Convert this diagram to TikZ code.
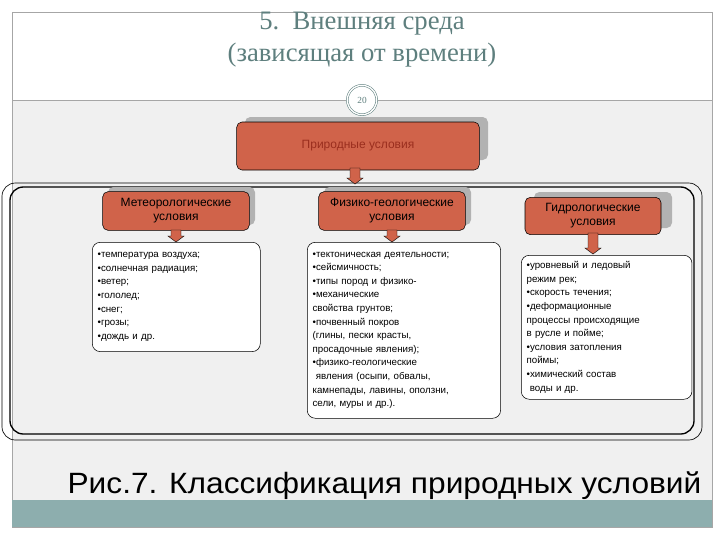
\documentclass[tikz,border=0pt]{standalone}
\usepackage{fontspec}
\setmainfont{Liberation Sans}
\newfontfamily\serif{Liberation Serif}
\definecolor{hd}{HTML}{D0634A}
\definecolor{hdtxt}{HTML}{9A2E1E}
\definecolor{teal}{HTML}{8DAEAE}
\definecolor{ttl}{HTML}{5E7F7E}
\definecolor{bg}{HTML}{F0F0F0}
\begin{document}
\begin{tikzpicture}[x=0.75pt,y=-0.75pt,
  head/.style={draw=black,fill=hd,rounded corners=4pt,align=center,font=\fontsize{9}{10.5}\selectfont,inner sep=2pt},
  shad/.style={fill=gray!60,rounded corners=4pt},
  listbox/.style={draw=black,fill=white,rounded corners=6pt,align=left,font=\fontsize{7.3}{10.2}\selectfont,inner xsep=4pt,inner ysep=3pt,anchor=north west},
  arr/.style={fill=hd,draw=black,line width=0.3pt}]
\useasboundingbox (0,0) rectangle (720,540);
\fill[white] (0,0) rectangle (720,540);
\fill[bg] (12,100) rectangle (712,500);
\draw[gray!70] (12,12) rectangle (712,527);
\fill[teal] (12,500) rectangle (712,527);
\node[font=\serif\fontsize{20}{24}\selectfont,text=ttl,align=center] (title) at (362,40) {5.\ \ Внешняя среда\\(зависящая от времени)};
\draw[gray!70] (12,100) -- (712,100);
\node[circle,draw=ttl,double=white,double distance=1pt,fill=white,minimum size=22pt,inner sep=0pt,font=\serif\fontsize{7}{8}\selectfont,text=ttl] (pg) at (362,100) {20};
% big frame
\draw[rounded corners=10pt,line width=0.5pt] (2,183) rectangle (702,440);
\draw[rounded corners=10pt,line width=1pt] (10,187) rectangle (694,434);
% top box
\fill[shad] (245,117) rectangle (488,160);
\node[head,minimum width=182pt,minimum height=36pt,text=hdtxt] (top) at (358,146) {Природные условия};
% columns
\fill[shad] (108,187) rectangle (255,225);
\node[head,minimum width=110pt,minimum height=29pt] (m) at (176,211) {Метеорологические\\условия};
\fill[shad] (324,187) rectangle (471,225);
\node[head,minimum width=110pt,minimum height=29pt] (f) at (392,211) {Физико-геологические\\условия};
\fill[shad] (534,192) rectangle (672,228);
\node[head,minimum width=102pt,minimum height=28pt] (g) at (593,216) {Гидрологические\\условия};
% arrows
\draw[arr] (350,168) -- (360,168) -- (360,178) -- (363,178) -- (355,184) -- (347,178) -- (350,178) -- cycle;
\draw[arr] (171,230) -- (181,230) -- (181,236) -- (184,236) -- (176,242) -- (168,236) -- (171,236) -- cycle;
\draw[arr] (387,230) -- (397,230) -- (397,236) -- (400,236) -- (392,242) -- (384,236) -- (387,236) -- cycle;
\draw[arr] (588,233) -- (598,233) -- (598,248) -- (601,248) -- (593,254) -- (585,248) -- (588,248) -- cycle;
% lists
\node[listbox,text width=118pt,minimum height=82pt] (ml) at (92,242) {
\textbullet температура воздуха;\\
\textbullet солнечная радиация;\\
\textbullet ветер;\\
\textbullet гололед;\\
\textbullet снег;\\
\textbullet грозы;\\
\textbullet дождь и др.};
\node[listbox,text width=137pt,minimum height=132pt] (fl) at (307,242) {
\textbullet тектоническая  деятельности;\\
\textbullet сейсмичность;\\
\textbullet типы пород и физико-\\
\textbullet механические\\
свойства грунтов;\\
\textbullet почвенный покров\\
(глины, пески красты,\\
просадочные явления);\\
\textbullet физико-геологические\\
\ явления (осыпи, обвалы,\\
камнепады, лавины, оползни,\\
сели, муры и др.).};
\node[listbox,text width=120pt,minimum height=108pt] (gl) at (521,255) {
\textbullet уровневый и ледовый\\
режим рек;\\
\textbullet скорость течения;\\
\textbullet деформационные\\
процессы происходящие\\
в русле и пойме;\\
\textbullet условия затопления\\
поймы;\\
\textbullet химический состав\\
\ воды и др.};
\node[anchor=base east,font=\fontsize{22}{26}\selectfont] (cap) at (706,493) {\scalebox{1.08}[1]{Рис.7. Классификация природных условий}};
\end{tikzpicture}
\end{document}
